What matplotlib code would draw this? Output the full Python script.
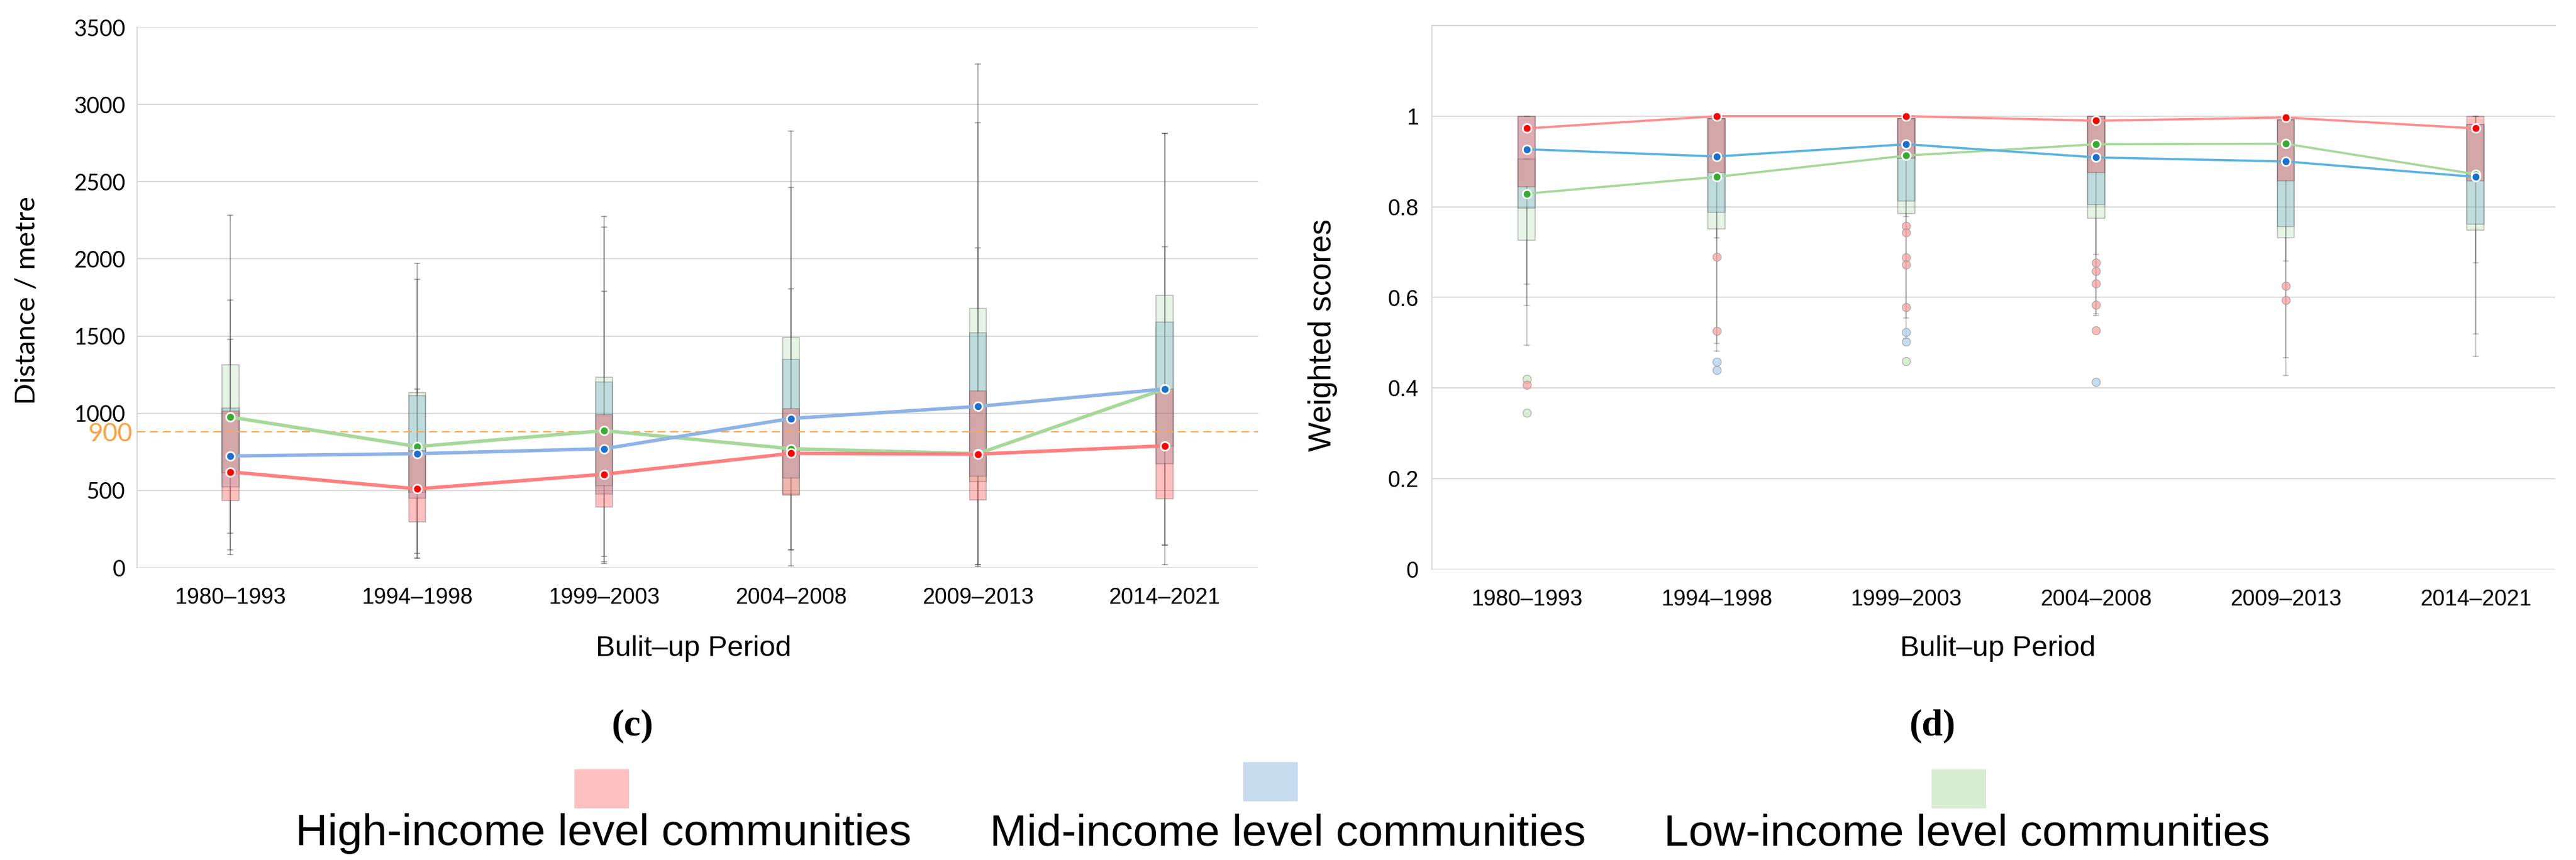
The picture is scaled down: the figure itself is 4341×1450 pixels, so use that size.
"""Distance and weighted scores by built-up period, three income groups."""

import matplotlib

matplotlib.use("Agg")
import matplotlib.pyplot as plt
from matplotlib.patches import Rectangle

PERIODS = ["1980–1993", "1994–1998", "1999–2003", "2004–2008", "2009–2013", "2014–2021"]
GROUPS = ["high", "mid", "low"]
LEGEND_LABELS = [
    "High-income level communities",
    "Mid-income level communities",
    "Low-income level communities",
]

# --- panel (c): distance / metre ---
dist_q1 = {
    "high": [433, 297, 393, 467, 437, 447],
    "mid": [523, 451, 477, 582, 592, 672],
    "low": [614, 487, 531, 475, 557, 788],
}
dist_q3 = {
    "high": [1015, 758, 993, 1029, 1143, 1155],
    "mid": [1033, 1115, 1203, 1350, 1520, 1590],
    "low": [1313, 1133, 1235, 1490, 1678, 1765],
}
dist_lo = {
    "high": [86, 62, 26, 10, 6, 20],
    "mid": [116, 62, 40, 116, 20, 146],
    "low": [221, 92, 74, 116, 20, 146],
}
dist_hi = {
    "high": [1480, 1157, 1791, 1805, 2069, 2079],
    "mid": [1731, 1869, 2206, 2462, 2881, 2811],
    "low": [2282, 1971, 2276, 2827, 3260, 2811],
}
dist_mean = {
    "high": [620, 510, 605, 740, 735, 789],
    "mid": [723, 738, 770, 966, 1044, 1157],
    "low": [975, 784, 887, 770, 738, 1157],
}
THRESHOLD_LINE = 880
THRESHOLD_LABEL = "900"

# --- panel (d): weighted scores ---
score_q1 = {
    "high": [0.844, 0.875, 0.907, 0.875, 0.857, 0.857],
    "mid": [0.797, 0.788, 0.813, 0.805, 0.757, 0.762],
    "low": [0.726, 0.751, 0.785, 0.775, 0.732, 0.749],
}
score_q3 = {
    "high": [1.0, 0.994, 0.995, 1.0, 0.992, 1.0],
    "mid": [1.0, 0.994, 0.995, 1.0, 0.992, 0.981],
    "low": [0.905, 0.994, 0.995, 1.0, 0.992, 0.981],
}
score_lo = {
    "high": [0.630, 0.732, 0.779, 0.695, 0.681, 0.677],
    "mid": [0.582, 0.498, 0.555, 0.564, 0.467, 0.520],
    "low": [0.495, 0.482, 0.509, 0.560, 0.428, 0.470],
}
score_hi = {
    "high": [1.0, 1.0, 1.0, 1.0, 1.0, 1.0],
    "mid": [1.0, 1.0, 1.0, 1.0, 1.0, 1.0],
    "low": [0.905, 1.0, 1.0, 1.0, 1.0, 1.0],
}
score_mean = {
    "high": [0.973, 1.0, 1.0, 0.990, 0.997, 0.973],
    "mid": [0.927, 0.911, 0.938, 0.909, 0.900, 0.866],
    "low": [0.829, 0.866, 0.913, 0.938, 0.939, 0.872],
}
score_fliers = {
    "high": [[0.407], [0.689, 0.526], [0.758, 0.743, 0.688, 0.672, 0.578],
             [0.676, 0.658, 0.631, 0.583, 0.527], [0.626, 0.594], []],
    "mid": [[], [0.458, 0.440], [0.523, 0.503], [0.413], [], []],
    "low": [[0.420, 0.345], [], [0.459], [], [], []],
}

# --- styles ---
BOX_FACE = {
    "high": (1.0, 0.22, 0.22, 0.32),
    "mid": (0.31, 0.59, 0.78, 0.25),
    "low": (0.50, 0.79, 0.50, 0.20),
}
DOT = {"high": "#ff0000", "mid": "#1a6fcf", "low": "#3aaa35"}
LINE_C = {"high": "#ff7f7f", "mid": "#8fb3e5", "low": "#a6d89a"}
LINE_D = {"high": "#ff8c8c", "mid": "#5ab2e0", "low": "#a6d89a"}
FLIER = {"high": "#ff9a9a", "mid": "#a9cff0", "low": "#c9e6c0"}
LEGEND_FACE = {"high": "#ffc0c0", "mid": "#c8dcf0", "low": "#d8ecd0"}
GRID = "#d9d9d9"
ZORDER = {"low": 2.0, "mid": 2.1, "high": 2.2}

SANS = ["Liberation Sans", "DejaVu Sans"]
HUMANIST = ["Lato", "DejaVu Sans"]
plt.rcParams["font.family"] = SANS


def stats_for(q1, q3, lo, hi, mean, fliers=None):
    out = []
    for i in range(len(q1)):
        out.append(
            {
                "q1": q1[i],
                "q3": q3[i],
                "med": mean[i],
                "whislo": lo[i],
                "whishi": hi[i],
                "fliers": fliers[i] if fliers else [],
            }
        )
    return out


def draw_panel(ax, q1, q3, lo, hi, mean, fliers, line_c, line_w, whisk_alpha):
    x = list(range(len(PERIODS)))
    for g in ["low", "mid", "high"]:
        st = stats_for(q1[g], q3[g], lo[g], hi[g], mean[g], fliers[g] if fliers else None)
        ax.bxp(
            st,
            positions=x,
            widths=0.09,
            capwidths=0.025,
            patch_artist=True,
            manage_ticks=False,
            zorder=ZORDER[g],
            boxprops=dict(facecolor=BOX_FACE[g], edgecolor=(0.35, 0.35, 0.35, 0.35), linewidth=1.3),
            whiskerprops=dict(color="#4d4d4d", alpha=whisk_alpha, linewidth=1.5),
            capprops=dict(color="#4d4d4d", alpha=whisk_alpha, linewidth=1.5),
            medianprops=dict(linewidth=0),
            flierprops=dict(marker="o", markersize=10, markerfacecolor=FLIER[g],
                            markeredgecolor="#999999", markeredgewidth=1.0, alpha=0.7),
        )
    for g in ["low", "mid", "high"]:
        ax.plot(x, mean[g], color=line_c[g], lw=line_w, zorder=4, solid_capstyle="round")
    for g in ["low", "mid", "high"]:
        ax.plot(x, mean[g], "o", ms=10.5, mfc=DOT[g], mec="white", mew=2, zorder=5)

    ax.set_xticks(x)
    ax.set_xticklabels(PERIODS, fontsize=27, family=SANS)
    ax.tick_params(axis="x", length=0, pad=24)
    ax.tick_params(axis="y", length=0)
    ax.grid(axis="y", color=GRID, lw=1.5, zorder=0)
    ax.set_axisbelow(True)
    for s in ("right", "top", "bottom"):
        ax.spines[s].set_visible(False)
    ax.spines["left"].set_color(GRID)
    ax.spines["left"].set_linewidth(1.5)


fig = plt.figure(figsize=(43.41, 14.5), dpi=100)

# panel (c)
ax1 = fig.add_axes([231 / 4341, 1 - 957 / 1450, 1889 / 4341, 911 / 1450])
draw_panel(ax1, dist_q1, dist_q3, dist_lo, dist_hi, dist_mean, None, LINE_C, 4.2, 0.45)
ax1.set_xlim(-0.5, 5.5)
ax1.set_ylim(0, 3500)
ax1.set_yticks(range(0, 3501, 500))
ax1.set_yticklabels([str(v) for v in range(0, 3501, 500)], fontsize=27, family=HUMANIST)
ax1.tick_params(axis="y", pad=14)
ax1.axhline(THRESHOLD_LINE, color="#ffa64d", lw=1.4, ls=(0, (7, 4)), zorder=3)
ax1.annotate(THRESHOLD_LABEL, xy=(-0.004, THRESHOLD_LINE - 16), xycoords=("axes fraction", "data"),
             ha="right", va="center", fontsize=31, color="#ffa040", family=HUMANIST)

# panel (d)
ax2 = fig.add_axes([2413 / 4341, 1 - 960 / 1450, 1893 / 4341, 917 / 1450])
draw_panel(ax2, score_q1, score_q3, score_lo, score_hi, score_mean, score_fliers, LINE_D, 2.7, 0.3)
ax2.set_xlim(-0.5, 5.42)
ax2.set_ylim(0, 1.2)
yt = [0, 0.2, 0.4, 0.6, 0.8, 1.0]
ax2.set_yticks(yt)
ax2.set_yticklabels(["0", "0.2", "0.4", "0.6", "0.8", "1"], fontsize=27)
ax2.tick_params(axis="y", pad=16)
ax2.spines["top"].set_visible(True)
ax2.spines["top"].set_color(GRID)
ax2.spines["top"].set_linewidth(1.5)

# axis titles
fig.text(46 / 4341, 1 - 507 / 1450, "Distance / metre", rotation=90, ha="center", va="center",
         fontsize=34, family=HUMANIST)
fig.text(2229 / 4341, 1 - 565 / 1450, "Weighted scores", rotation=90, ha="center", va="center",
         fontsize=38)
for cx in (1169, 3367):
    fig.text(cx / 4341, 1 - 1093 / 1450, "Bulit–up Period", ha="center", va="center", fontsize=35)
fig.text(1066 / 4341, 1 - 1224 / 1450, "(c)", ha="center", va="center", fontsize=46,
         fontweight="bold", family=["Liberation Serif", "DejaVu Serif"])
fig.text(3256 / 4341, 1 - 1224 / 1450, "(d)", ha="center", va="center", fontsize=46,
         fontweight="bold", family=["Liberation Serif", "DejaVu Serif"])

# legend: coloured block above each label
patch_box = {"high": (968, 1297), "mid": (2095, 1285), "low": (3255, 1297)}
label_x = {"high": 1017, "mid": 2170, "low": 3315}
for g, lab in zip(GROUPS, LEGEND_LABELS):
    px, py = patch_box[g]
    fig.add_artist(Rectangle((px / 4341, 1 - (py + 66) / 1450), 92 / 4341, 66 / 1450,
                             transform=fig.transFigure, facecolor=LEGEND_FACE[g], edgecolor="none"))
    fig.text(label_x[g] / 4341, 1 - 1425 / 1450, lab, ha="center", va="baseline", fontsize=54)

fig.savefig("out.png", dpi=100)
